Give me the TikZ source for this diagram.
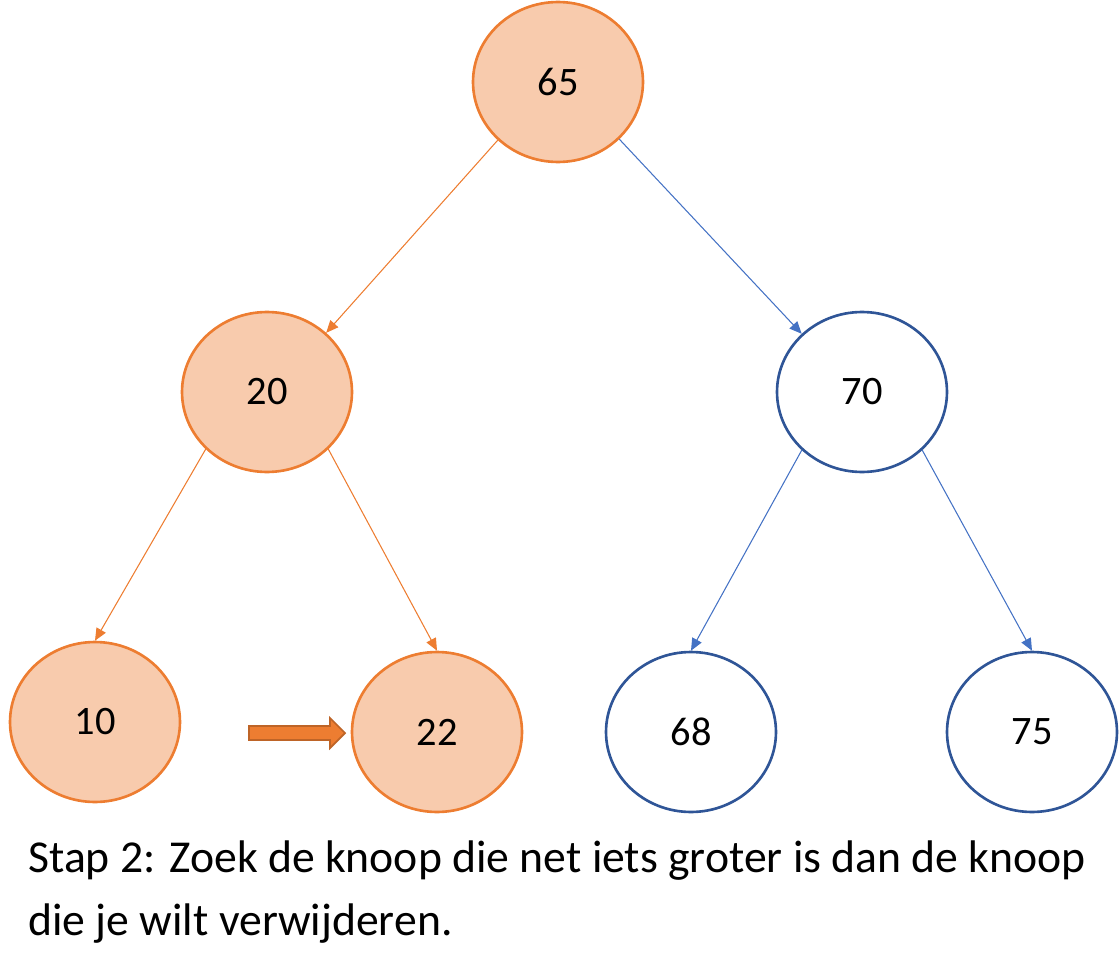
\documentclass[tikz,border=0pt]{standalone}
\usepackage{fontspec}
\setmainfont{Carlito}
\usetikzlibrary{shapes.geometric,arrows.meta}
\definecolor{orfill}{HTML}{F8CBAD}
\definecolor{orline}{HTML}{ED7D31}
\definecolor{blline}{HTML}{2F5597}
\definecolor{blarrow}{HTML}{4472C4}
\begin{document}
\begin{tikzpicture}[x=0.02cm,y=-0.02cm,
  onode/.style={ellipse,draw=orline,fill=orfill,line width=1.5pt,minimum width=3.4cm,minimum height=3.2cm,font=\fontsize{23}{27}\selectfont},
  bnode/.style={ellipse,draw=blline,fill=white,line width=1.5pt,minimum width=3.4cm,minimum height=3.2cm,font=\fontsize{23}{27}\selectfont},
  oedge/.style={draw=orline,line width=0.6pt,-{Triangle[length=7pt,width=6pt]}},
  bedge/.style={draw=blarrow,line width=0.6pt,-{Triangle[length=7pt,width=6pt]}}]
\useasboundingbox (0,0) rectangle (1120,960);
\node[onode] (n65) at (558,82) {65};
\node[onode] (n20) at (267,392) {20};
\node[bnode] (n70) at (862,392) {70};
\node[onode] (n10) at (95,722) {10};
\node[onode] (n22) at (437,732) {22};
\node[bnode] (n68) at (691,732) {68};
\node[bnode] (n75) at (1032,732) {75};
\draw[oedge] (n65.224) -- (n20.45);
\draw[bedge] (n65.317) -- (n70.136);
\draw[oedge] (n20.223) -- (n10.north);
\draw[oedge] (n20.317) -- (n22.north);
\draw[bedge] (n70.224) -- (n68.north);
\draw[bedge] (n70.316) -- (n75.north);
\draw[draw=orline!80!black,fill=orline,line width=1pt] (249,726) -- (330,726) -- (330,718) -- (345,733) -- (330,748) -- (330,740) -- (249,740) -- cycle;
\node[anchor=north west,align=left,font=\fontsize{26}{36}\selectfont,inner sep=0] (cap) at (28,840) {Stap 2: Zoek de knoop die net iets groter is dan de knoop\\die je wilt verwijderen.};
\end{tikzpicture}
\end{document}
